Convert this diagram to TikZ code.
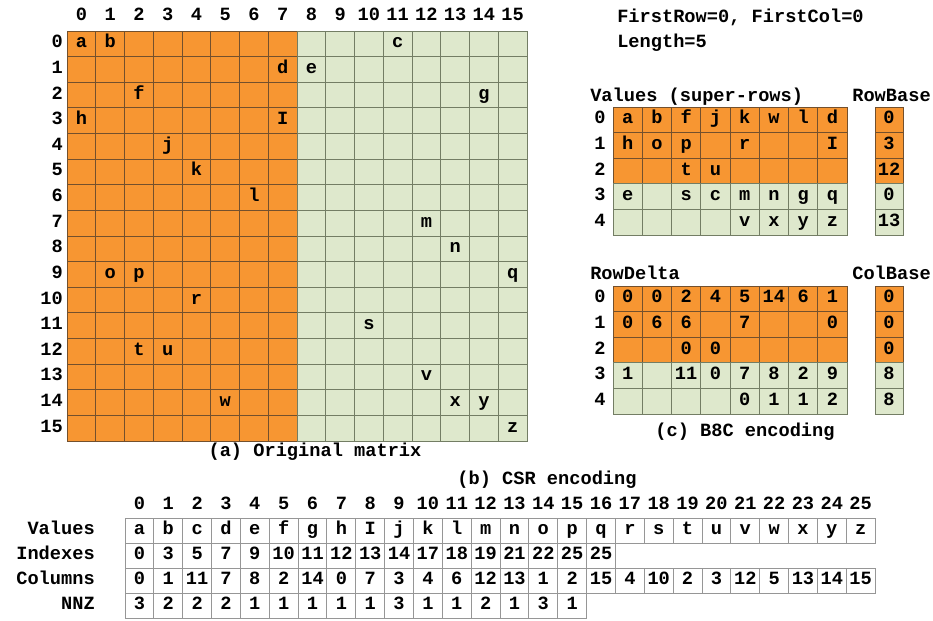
\documentclass[tikz,border=0pt]{standalone}
\usepackage{fontspec}
\newfontfamily\courfont{Liberation Mono}
\usetikzlibrary{positioning}
\usepackage{xcolor}
\definecolor{bsorange}{RGB}{247,150,50}
\definecolor{bsgreen}{RGB}{222,232,204}
\definecolor{hotline}{RGB}{115,80,45}
\definecolor{coldline}{RGB}{115,125,100}
\definecolor{csrline}{RGB}{150,150,150}

\begin{document}
\begin{tikzpicture}[x=0.75pt,y=-0.75pt,
  lbl/.style={font=\courfont\bfseries\fontsize{14}{16}\selectfont,inner sep=0pt,
              text height=7pt,text depth=1pt},
  hot/.style={draw=hotline,fill=bsorange,line width=0.75pt},
  cold/.style={draw=coldline,fill=bsgreen,line width=0.75pt},
  plain/.style={draw=csrline,fill=white,line width=0.75pt}
]
  \useasboundingbox (0,0) rectangle (933,621);

  % (a) original matrix, 16 x 16
  \foreach \r in {0,...,15}
    \foreach \c in {0,...,15} {
      \ifnum\c<8 \def\shade{hot}\else\def\shade{cold}\fi
      \draw[style=\shade] ({67+28.75*\c},{31+25.625*\r}) rectangle +(28.75,25.625);
    }
  \foreach \i in {0,...,15} {
    \node[lbl] (mcol\i) at ({67+28.75*(\i+0.5)},17) {\i};
    \node[lbl,anchor=east] (mrow\i) at (63,{31+25.625*(\i+0.5)}) {\i};
  }
  \foreach \r/\c/\v in {0/0/a,0/1/b,0/11/c,1/7/d,1/8/e,2/2/f,2/14/g,3/0/h,3/7/I,
                        4/3/j,5/4/k,6/6/l,7/12/m,8/13/n,9/1/o,9/2/p,9/15/q,10/4/r,
                        11/10/s,12/2/t,12/3/u,13/12/v,14/5/w,14/13/x,14/14/y,15/15/z}
    \node[lbl] (m\r-\c) at ({67+28.75*(\c+0.5)},{31+25.625*(\r+0.5)}) {\v};
  \node[lbl] (capa) at (315,452) {(a) Original matrix};

  % (c) B8C encoding
  \node[lbl,anchor=west] (first) at (617,18) {FirstRow=0, FirstCol=0};
  \node[lbl,anchor=west] (len)   at (617,43) {Length=5};
  \node[lbl,anchor=west] (valtitle) at (590,97) {Values (super-rows)};
  \node[lbl,anchor=east] (rbtitle)  at (931,97) {RowBase};

  \foreach \row [count=\r from 0] in {{a,b,f,j,k,w,l,d},{h,o,p,{},r,{},{},I},
      {{},{},t,u,{},{},{},{}},{e,{},s,c,m,n,g,q},{{},{},{},{},v,x,y,z}} {
    \ifnum\r<3 \def\shade{hot}\else\def\shade{cold}\fi
    \node[lbl] (vrow\r) at (600,{107+25.6*(\r+0.5)}) {\r};
    \foreach \v [count=\c from 0] in \row {
      \draw[style=\shade] ({613+29.25*\c},{107+25.6*\r}) rectangle +(29.25,25.6);
      \node[lbl] (val\r-\c) at ({613+29.25*(\c+0.5)},{107+25.6*(\r+0.5)}) {\v};
    }
  }
  \foreach \v [count=\r from 0] in {0,3,12,0,13} {
    \ifnum\r<3 \def\shade{hot}\else\def\shade{cold}\fi
    \draw[style=\shade] (875,{107+25.6*\r}) rectangle +(28,25.6);
    \node[lbl] (rb\r) at (889,{107+25.6*(\r+0.5)}) {\v};
  }

  \node[lbl,anchor=west] (rdtitle) at (590,275) {RowDelta};
  \node[lbl,anchor=east] (cbtitle) at (931,275) {ColBase};
  \foreach \row [count=\r from 0] in {{0,0,2,4,5,14,6,1},{0,6,6,{},7,{},{},0},
      {{},{},0,0,{},{},{},{}},{1,{},11,0,7,8,2,9},{{},{},{},{},0,1,1,2}} {
    \ifnum\r<3 \def\shade{hot}\else\def\shade{cold}\fi
    \node[lbl] (drow\r) at (600,{286+25.6*(\r+0.5)}) {\r};
    \foreach \v [count=\c from 0] in \row {
      \draw[style=\shade] ({613+29.25*\c},{286+25.6*\r}) rectangle +(29.25,25.6);
      \node[lbl] (rd\r-\c) at ({613+29.25*(\c+0.5)},{286+25.6*(\r+0.5)}) {\v};
    }
  }
  \foreach \v [count=\r from 0] in {0,0,0,8,8} {
    \ifnum\r<3 \def\shade{hot}\else\def\shade{cold}\fi
    \draw[style=\shade] (875,{286+25.6*\r}) rectangle +(28,25.6);
    \node[lbl] (cb\r) at (889,{286+25.6*(\r+0.5)}) {\v};
  }
  \node[lbl] (capc) at (745,432) {(c) B8C encoding};

  % (b) CSR encoding
  \node[lbl] (capb) at (547,480) {(b) CSR encoding};
  \foreach \i in {0,...,25}
    \node[lbl] (ccol\i) at ({125+28.85*(\i+0.5)},505) {\i};

  \node[lbl,anchor=east] (lvals) at (95,530.5) {Values};
  \node[lbl,anchor=east] (lidx)  at (95,555.5) {Indexes};
  \node[lbl,anchor=east] (lcols) at (95,580.5) {Columns};
  \node[lbl,anchor=east] (lnnz)  at (95,605.5) {NNZ};

  \foreach \v [count=\i from 0] in {a,b,c,d,e,f,g,h,I,j,k,l,m,n,o,p,q,r,s,t,u,v,w,x,y,z} {
    \draw[plain] ({125+28.85*\i},518) rectangle +(28.85,25);
    \node[lbl] (cv\i) at ({125+28.85*(\i+0.5)},530.5) {\v};
  }
  \foreach \v [count=\i from 0] in {0,3,5,7,9,10,11,12,13,14,17,18,19,21,22,25,25} {
    \draw[plain] ({125+28.85*\i},543) rectangle +(28.85,25);
    \node[lbl] (ci\i) at ({125+28.85*(\i+0.5)},555.5) {\v};
  }
  \foreach \v [count=\i from 0] in {0,1,11,7,8,2,14,0,7,3,4,6,12,13,1,2,15,4,10,2,3,12,5,13,14,15} {
    \draw[plain] ({125+28.85*\i},568) rectangle +(28.85,25);
    \node[lbl] (cc\i) at ({125+28.85*(\i+0.5)},580.5) {\v};
  }
  \foreach \v [count=\i from 0] in {3,2,2,2,1,1,1,1,1,3,1,1,2,1,3,1} {
    \draw[plain] ({125+28.85*\i},593) rectangle +(28.85,25);
    \node[lbl] (cn\i) at ({125+28.85*(\i+0.5)},605.5) {\v};
  }
\end{tikzpicture}
\end{document}
